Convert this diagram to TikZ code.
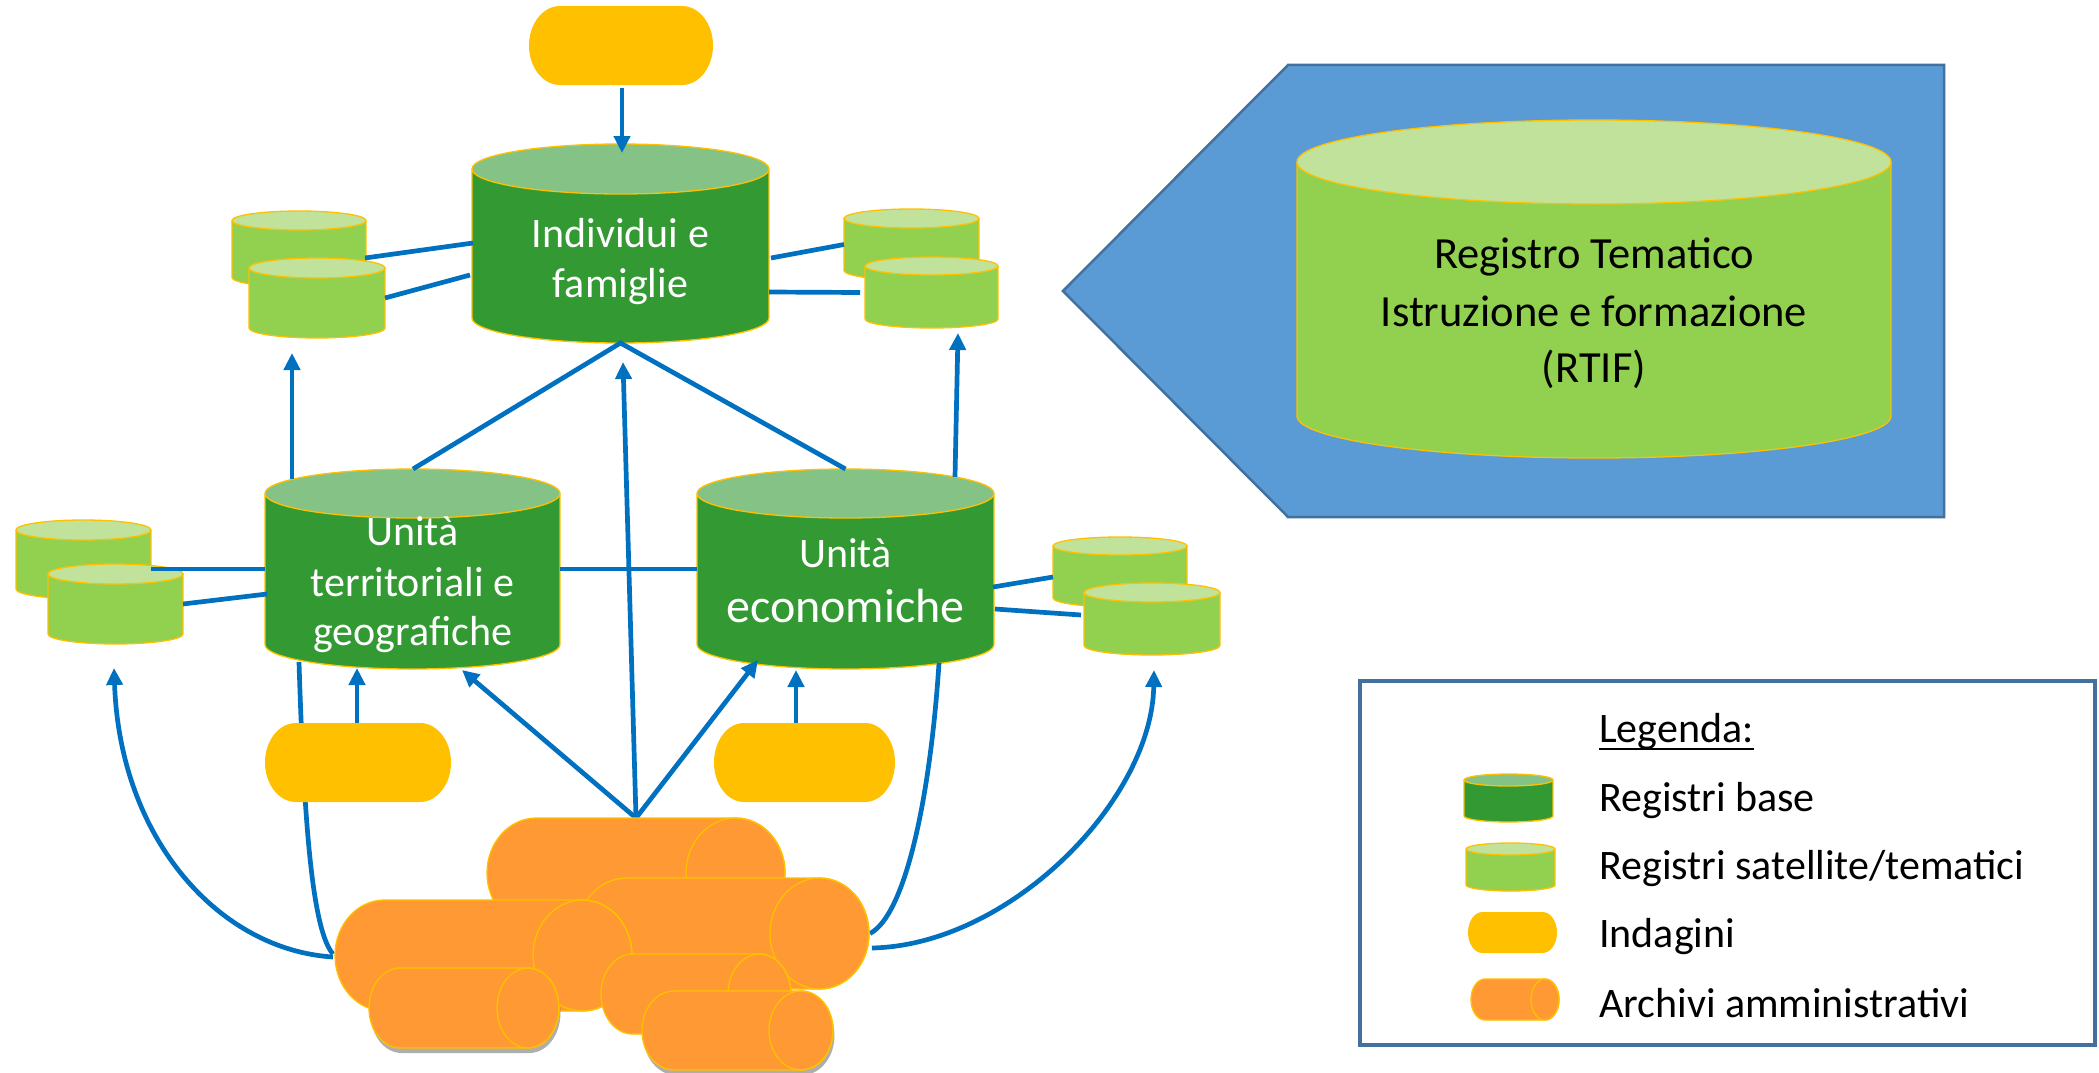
\documentclass[tikz,border=0pt]{standalone}
\usepackage{fontspec}
\setmainfont{Carlito}
\usetikzlibrary{arrows.meta,calc,shadows}
\definecolor{conn}{HTML}{0070C0}
\definecolor{yel}{HTML}{FFC000}
\definecolor{org}{HTML}{FF9933}
\definecolor{dgreen}{HTML}{339933}
\definecolor{dgtop}{HTML}{85C285}
\definecolor{lgreen}{HTML}{92D050}
\definecolor{lgtop}{HTML}{C0E29A}
\definecolor{pent}{HTML}{5B9BD5}
\definecolor{pentline}{HTML}{41719C}
\pgfdeclarelayer{ground}
\pgfdeclarelayer{lines}
\pgfsetlayers{ground,lines,main}
\tikzset{
  cyledge/.style={draw=yel, line width=1.3pt},
  link/.style={draw=conn, line width=4.7pt},
  arr/.style={link, -{Triangle[length=17pt,width=16pt]}},
  anchorbox/.style={inner sep=0pt, outer sep=0pt},
  wtxt/.style={text=white, inner sep=0pt, font=\fontsize{42}{50}\selectfont},
  btxt/.style={text=black, inner sep=0pt, font=\fontsize{44.5}{53}\selectfont},
  ltxt/.style={text=black, inner sep=0pt, anchor=base west, font=\fontsize{42}{50}\selectfont},
  archshadow/.style={drop shadow={shadow xshift=1.5pt, shadow yshift=-5pt, opacity=0.45, fill=black!70}},
}
% vertical cylinder: name, cx, top, bottom, rx, ry, body colour, top colour
\newcommand\vcyl[8]{%
  \fill[#7] ({#2-#5},{#3+#6}) rectangle ({#2+#5},{#4-#6});
  \fill[#7] (#2,{#4-#6}) ellipse [x radius=#5pt, y radius=#6pt];
  \draw[cyledge] ({#2-#5},{#3+#6}) -- ({#2-#5},{#4-#6}) arc [start angle=180, end angle=360, x radius=#5pt, y radius=#6pt] -- ({#2+#5},{#3+#6});
  \filldraw[cyledge, fill=#8] (#2,{#3+#6}) ellipse [x radius=#5pt, y radius=#6pt];
  \node[anchorbox, minimum width={2*#5pt}, minimum height={(#4-#3)*1pt}] (#1) at (#2,{(#3+#4)/2}) {};
}
% horizontal cylinder: name, left, right, top, bottom, end rx, extra options
\newcommand\hcyl[7]{%
  \pgfmathsetmacro\hry{(#5-#4)/2}%
  \pgfmathsetmacro\hcy{(#4+#5)/2}%
  \filldraw[cyledge, fill=org, #7] ({#2+#6},#4) -- ({#3-#6},#4) arc [start angle=90, end angle=-90, x radius=#6pt, y radius=\hry pt] -- ({#2+#6},#5) arc [start angle=270, end angle=90, x radius=#6pt, y radius=\hry pt] -- cycle;
  \draw[cyledge] ({#3-#6},\hcy) ellipse [x radius=#6pt, y radius=\hry pt];
  \node[anchorbox, minimum width={(#3-#2)*1pt}, minimum height={(#5-#4)*1pt}] (#1) at ({(#2+#3)/2},\hcy) {};
}
% terminator shaped survey: name, x1, y1, x2, y2, end rx
\newcommand\capsule[6]{%
  \pgfmathsetmacro\cry{(#5-#3)/2}%
  \fill[yel] ({#2+#6},#3) -- ({#4-#6},#3) arc [start angle=90, end angle=-90, x radius=#6pt, y radius=\cry pt] -- ({#2+#6},#5) arc [start angle=270, end angle=90, x radius=#6pt, y radius=\cry pt] -- cycle;
  \node[anchorbox, minimum width={(#4-#2)*1pt}, minimum height={(#5-#3)*1pt}] (#1) at ({(#2+#4)/2},{(#3+#5)/2}) {};
}
\begin{document}
\begin{tikzpicture}[x=1pt,y=-1pt]
\useasboundingbox (0,0) rectangle (2099,1073);
\begin{pgfonlayer}{ground}
  \fill[white] (0,0) rectangle (2099,1073);
  % thematic register
  \filldraw[fill=pent, draw=pentline, line width=2.5pt] (1063,291) -- (1288,65) -- (1944,65) -- (1944,517) -- (1288,517) -- cycle;
  \vcyl{rtif}{1594}{120}{458}{297}{42}{lgreen}{lgtop}
  % base registers
  \vcyl{ind}{620.5}{144}{343}{148.5}{25}{dgreen}{dgtop}
  \vcyl{terr}{412.5}{469}{669}{147.5}{24.5}{dgreen}{dgtop}
  \vcyl{eco}{845.5}{469}{669}{148.5}{24.5}{dgreen}{dgtop}
  % satellite registers
  \vcyl{satTL1}{299}{211}{287}{67}{9.5}{lgreen}{lgtop}
  \vcyl{satTL2}{317}{258}{338}{68}{10}{lgreen}{lgtop}
  \vcyl{satTR1}{911.5}{209}{280}{67.5}{9.5}{lgreen}{lgtop}
  \vcyl{satTR2}{931.5}{257}{328}{66.5}{9}{lgreen}{lgtop}
  \vcyl{satML1}{83.5}{520}{599}{67.5}{10}{lgreen}{lgtop}
  \vcyl{satML2}{115.5}{564}{644}{67.5}{10}{lgreen}{lgtop}
  \vcyl{satMR1}{1120}{537}{607}{67}{9}{lgreen}{lgtop}
  \vcyl{satMR2}{1152}{583}{655}{68}{9.5}{lgreen}{lgtop}
\end{pgfonlayer}

% surveys
\capsule{indTop}{529}{6}{713}{85}{31}
\capsule{yL}{265}{723}{451}{802}{31}
\capsule{yR}{714}{723}{895}{802}{30}

% administrative archives
\hcyl{arcA}{487}{785}{818}{928}{49.5}{}
\hcyl{arcB}{577}{869}{878}{989}{49.5}{}
\hcyl{arcC}{335}{632}{900}{1011}{49.5}{}
\hcyl{arcE}{601}{791}{954}{1034}{31.5}{}
\hcyl{arcD}{369}{559}{968}{1048}{31}{archshadow}
\hcyl{arcF}{642}{833}{991}{1070}{32}{archshadow}

% texts
\node[wtxt, anchor=base] (tInd1) at (620.5,247) {Individui e};
\node[wtxt, anchor=base] (tInd2) at (620.5,297) {famiglie};
\node[wtxt, anchor=base] (tTer1) at (412.5,545) {Unità};
\node[wtxt, anchor=base] (tTer2) at (412.5,596) {territoriali e};
\node[wtxt, anchor=base] (tTer3) at (412.5,645) {geografiche};
\node[wtxt, anchor=base] (tEco1) at (845.5,567) {Unità};
\node[wtxt, anchor=base, font=\fontsize{48}{56}\selectfont] (tEco2) at (845.5,622) {economiche};
\node[btxt, anchor=base] (tR1) at (1594,268) {Registro Tematico};
\node[btxt, anchor=base] (tR2) at (1594,326) {Istruzione e formazione};
\node[btxt, anchor=base] (tR3) at (1594,382) {(RTIF)};

% legend
\draw[pentline, line width=3.5pt] (1360,681) rectangle (2095,1045);
\node[ltxt] (tLeg) at (1599,742) {Legenda:};
\draw[line width=2.5pt] ($(tLeg.base west)+(0,7)$) -- ($(tLeg.base east)+(0,7)$);
\vcyl{lgBase}{1508.5}{774}{822}{44.5}{6}{dgreen}{dgtop}
\vcyl{lgSat}{1510.5}{843}{891}{44.5}{6}{lgreen}{lgtop}
\capsule{lgInd}{1468}{912}{1557}{953}{14.5}
\hcyl{lgArc}{1471}{1559}{979}{1020}{14}{}
\node[ltxt] (tL1) at (1599,811) {Registri base};
\node[ltxt] (tL2) at (1599,879) {Registri satellite/tematici};
\node[ltxt] (tL3) at (1599,947) {Indagini};
\node[ltxt] (tL4) at (1599,1017) {Archivi amministrativi};

% connectors
\begin{pgfonlayer}{lines}
  \draw[arr] ($(indTop.south)+(1,3)$) -- ($(ind.north)+(1.5,9)$);
  \draw[link] ($(satTL1.east)+(-1,9)$) -- ($(ind.west)+(1,-0.5)$);
  \draw[link] (satTL2.east) -- ($(ind.west)+(-2,31.5)$);
  \draw[link] ($(ind.east)+(2,14.5)$) -- (satTR1.west);
  \draw[link] ($(ind.east)+(0,48.5)$) -- ($(satTR2.west)+(-5,0)$);
  \draw[arr] ($(terr.north)+(-120.5,10)$) -- ($(satTL2.south)+(-25,15)$);
  \draw[arr] ($(eco.north)+(109.5,8)$) -- ($(satTR2.south)+(26.5,5)$);
  \draw[link] ($(terr.north)+(0.5,0)$) -- (ind.south) -- (eco.north);
  \draw[arr] (arcA.north) -- ($(ind.south)+(2.5,19)$);
  \draw[arr] (arcA.north) -- ($(terr.south)+(49.5,1)$);
  \draw[arr] (arcA.north) -- ($(eco.south)+(-87.5,-9)$);
  \draw[arr] ($(yL.north)+(-1,0)$) -- ($(terr.south)+(-55.5,-1)$);
  \draw[arr] ($(yR.north)+(-8.5,0)$) -- ($(eco.south)+(-49.5,1)$);
  \draw[link] ($(satML1.east)+(0,9.5)$) -- (terr.west);
  \draw[link] (terr.east) -- (eco.west);
  \draw[link] (satML2.east) -- ($(terr.west)+(2,25)$);
  \draw[link] ($(eco.east)+(-1,18)$) -- ($(satMR1.west)+(0,5)$);
  \draw[link] ($(eco.east)+(1,40)$) -- ($(satMR2.west)+(-3,-4)$);
  \draw[link] ($(terr.south)+(-113.5,-7)$) .. controls (304,820) and (312,930) .. ($(arcC.west)+(-2,-1.5)$);
  \draw[link] ($(eco.south)+(93.5,-6)$) .. controls (930,800) and (905,915) .. ($(arcB.east)+(1,0)$);
  \draw[arr] ($(arcC.west)+(-2,1.5)$) .. controls (220,950) and (120,840) .. ($(satML2.south)+(-1.5,24)$);
  \draw[arr] ($(arcB.east)+(3,14.5)$) .. controls (1010,945) and (1152,800) .. ($(satMR2.south)+(2,15)$);
\end{pgfonlayer}
\end{tikzpicture}
\end{document}
